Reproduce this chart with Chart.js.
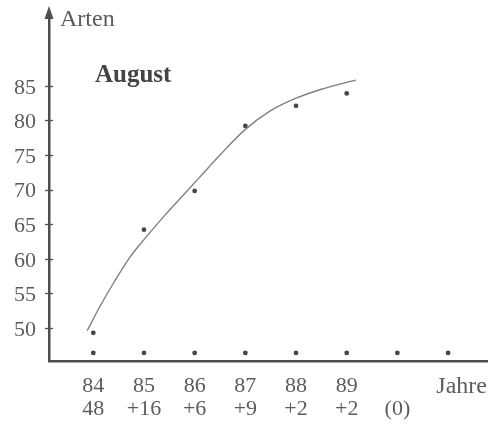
<!DOCTYPE html>
<html>
<head>
<meta charset="utf-8">
<script src="https://cdn.jsdelivr.net/npm/chart.js@4/dist/chart.umd.min.js"></script>
<style>
  html, body { margin: 0; padding: 0; background: #ffffff; }
  canvas { display: block; }
</style>
</head>
<body>
<canvas id="c" width="498" height="432"></canvas>
<script>
// Year positions on the x axis (two extra slots: the "(0)" column and "Jahre")
const yearTicks = [84, 85, 86, 87, 88, 89, 90, 91];
const yearLabels = ['84', '85', '86', '87', '88', '89', '', ''];
const newSpeciesLabels = ['48', '+16', '+6', '+9', '+2', '+2', '(0)', ''];

// Species counted per year (dots)
const surveyYears = [84, 85, 86, 87, 88, 89];
const speciesCount = [49.3, 64.2, 69.8, 79.2, 82.1, 83.9];

// Row of marker dots just above the x axis
const markerLevel = [46.4, 46.4, 46.4, 46.4, 46.4, 46.4, 46.4, 46.4];

// Smoothed trend curve
const curveX = [83.88, 84.13, 84.40, 84.72, 85.05, 85.40, 85.75, 86.10, 86.50, 87.00, 87.50, 88.00, 88.50, 89.00, 89.18];
const curveY = [49.6, 53.1, 56.5, 60.2, 63.2, 66.2, 69.0, 71.8, 75.0, 78.7, 81.4, 83.2, 84.5, 85.5, 85.8];

// Y axis tick values
const yTicks = [50, 55, 60, 65, 70, 75, 80, 85];

const FONT = '"Liberation Serif", "DejaVu Serif", serif';
const TEXT = '#5c5c5c';
const AXIS = '#4e4e4e';

const decor = {
  id: 'decor',
  afterDraw(chart) {
    const { ctx, chartArea: a, scales: { y } } = chart;
    ctx.save();
    // arrow head on top of the y axis
    ctx.fillStyle = AXIS;
    ctx.strokeStyle = AXIS;
    ctx.lineWidth = 2.5;
    ctx.beginPath();
    ctx.moveTo(a.left, a.top + 4);
    ctx.lineTo(a.left, 16);
    ctx.stroke();
    ctx.beginPath();
    ctx.moveTo(a.left, 6);
    ctx.lineTo(a.left - 4.5, 19);
    ctx.lineTo(a.left + 4.5, 19);
    ctx.closePath();
    ctx.fill();
    // tick marks crossing the y axis
    ctx.lineWidth = 1.3;
    yTicks.forEach(v => {
      const py = Math.round(y.getPixelForValue(v)) + 0.5;
      ctx.beginPath();
      ctx.moveTo(a.left - 4, py);
      ctx.lineTo(a.left + 4, py);
      ctx.stroke();
    });
    // captions
    ctx.fillStyle = TEXT;
    ctx.textBaseline = 'alphabetic';
    ctx.textAlign = 'left';
    ctx.font = '24px ' + FONT;
    ctx.fillText('Arten', 60, 26);
    ctx.fillStyle = '#444444';
    ctx.font = 'bold 25px ' + FONT;
    ctx.fillText('August', 95, 82);
    ctx.fillStyle = TEXT;
    ctx.textAlign = 'right';
    ctx.font = '24px ' + FONT;
    ctx.fillText('Jahre', a.right, 393);
    ctx.restore();
  }
};

new Chart(document.getElementById('c'), {
  type: 'scatter',
  data: {
    datasets: [
      {
        label: 'Trend',
        data: curveX.map((x, i) => ({ x, y: curveY[i] })),
        showLine: true,
        borderColor: '#808080',
        borderWidth: 1.4,
        pointRadius: 0,
        cubicInterpolationMode: 'monotone'
      },
      {
        label: 'Arten',
        data: surveyYears.map((x, i) => ({ x, y: speciesCount[i] })),
        pointRadius: 2.4,
        pointBackgroundColor: '#474747',
        pointBorderWidth: 0
      },
      {
        label: 'Jahre',
        data: yearTicks.map((x, i) => ({ x, y: markerLevel[i] })),
        pointRadius: 2.4,
        pointBackgroundColor: '#474747',
        pointBorderWidth: 0
      }
    ]
  },
  options: {
    responsive: false,
    animation: false,
    devicePixelRatio: 1,
    layout: { padding: { left: 0, right: 11, top: 12, bottom: 0 } },
    plugins: { legend: { display: false }, tooltip: { enabled: false } },
    scales: {
      x: {
        type: 'linear',
        min: 83.126,
        max: 91.768,
        afterFit: s => { s.height = 71; s.paddingLeft = 0; s.paddingRight = 0; },
        afterBuildTicks: s => { s.ticks = yearTicks.map(v => ({ value: v })); },
        grid: { display: false, drawTicks: false },
        border: { display: true, color: AXIS, width: 2.5 },
        ticks: {
          autoSkip: false,
          maxRotation: 0,
          padding: 13,
          color: TEXT,
          font: { family: FONT, size: 22, lineHeight: 1.07 },
          callback: v => {
            const i = yearTicks.indexOf(v);
            return i < 0 ? '' : [yearLabels[i], newSpeciesLabels[i]];
          }
        }
      },
      y: {
        min: 45.23,
        max: 95.66,
        afterFit: s => { s.width = 49; s.paddingTop = 0; s.paddingBottom = 0; },
        afterBuildTicks: s => { s.ticks = yTicks.map(v => ({ value: v })); },
        grid: { display: false, drawTicks: false },
        border: { display: true, color: AXIS, width: 2.5 },
        ticks: {
          padding: 13,
          labelOffset: 2,
          color: TEXT,
          font: { family: FONT, size: 22 }
        }
      }
    }
  },
  plugins: [decor]
});
</script>
</body>
</html>
